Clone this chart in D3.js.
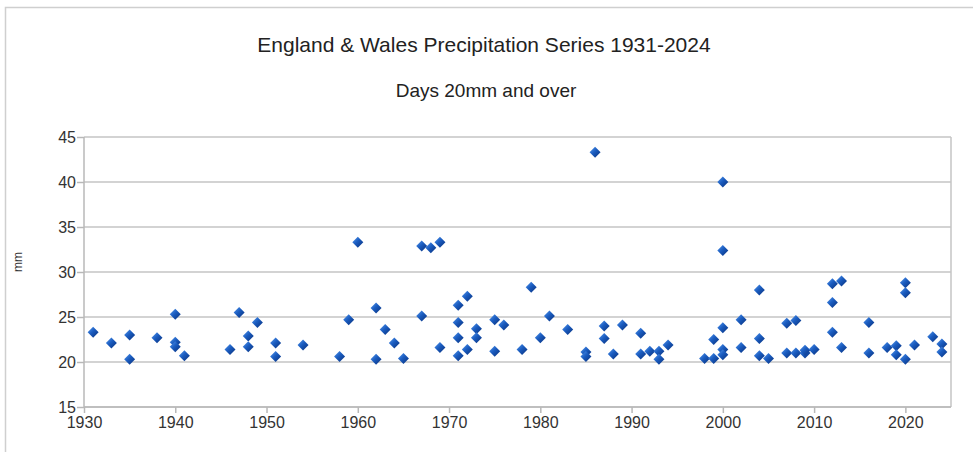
<!DOCTYPE html>
<html>
<head>
<meta charset="utf-8">
<script src="https://cdn.jsdelivr.net/npm/d3@7"></script>
<style>
  body { margin: 0; background: #fff; }
  text { font-family: 'Liberation Sans', Arial, sans-serif; }
</style>
</head>
<body>
<svg id="chart"></svg>
<script>
// days of 20mm and over, one entry per day (year, mm)
const years = [1931, 1933, 1935, 1935, 1938, 1940, 1940, 1940, 1941, 1946, 1947, 1948, 1948, 1949,
  1951, 1951, 1954, 1958, 1959, 1960, 1962, 1962, 1963, 1964, 1965, 1967, 1967, 1968, 1969, 1969,
  1971, 1971, 1971, 1971, 1972, 1972, 1973, 1973, 1975, 1975, 1976, 1978, 1979, 1980, 1981, 1983,
  1985, 1985, 1986, 1987, 1987, 1988, 1989, 1991, 1991, 1992, 1993, 1993, 1994, 1998, 1999, 1999,
  2000, 2000, 2000, 2000, 2000, 2002, 2002, 2004, 2004, 2004, 2005, 2007, 2007, 2008, 2008, 2009,
  2009, 2010, 2012, 2012, 2012, 2013, 2013, 2016, 2016, 2018, 2019, 2019, 2020, 2020, 2020, 2021,
  2023, 2024, 2024];
const mm = [23.3, 22.1, 23.0, 20.3, 22.7, 25.3, 22.2, 21.7, 20.7, 21.4, 25.5, 22.9, 21.7, 24.4,
  22.1, 20.6, 21.9, 20.6, 24.7, 33.3, 26.0, 20.3, 23.6, 22.1, 20.4, 32.9, 25.1, 32.7, 33.3, 21.6,
  26.3, 24.4, 22.7, 20.7, 27.3, 21.4, 23.7, 22.7, 24.7, 21.2, 24.1, 21.4, 28.3, 22.7, 25.1, 23.6,
  21.1, 20.6, 43.3, 24.0, 22.6, 20.9, 24.1, 23.2, 20.9, 21.2, 21.2, 20.3, 21.9, 20.4, 22.5, 20.4,
  40.0, 32.4, 23.8, 21.4, 20.8, 24.7, 21.6, 28.0, 22.6, 20.7, 20.4, 24.3, 21.0, 24.6, 21.0, 21.0,
  21.3, 21.4, 28.7, 26.6, 23.3, 29.0, 21.6, 24.4, 21.0, 21.6, 21.8, 20.8, 28.8, 27.7, 20.3, 21.9,
  22.8, 22.0, 21.1];
const xTicks = [1930, 1940, 1950, 1960, 1970, 1980, 1990, 2000, 2010, 2020];
const yTicks = [15, 20, 25, 30, 35, 40, 45];

const w = 973, h = 452;
const margin = {top: 137, right: 22, bottom: 45, left: 84};
const innerWidth = w - margin.left - margin.right;
const innerHeight = h - margin.top - margin.bottom;

const svg = d3.select('#chart')
    .attr('width', w)
    .attr('height', h);

// outer frame (only top and left edges visible in the crop)
svg.append('path')
    .attr('d', `M5.5,${h} V7.5 H${w}`)
    .attr('fill', 'none')
    .attr('stroke', '#cfcfcf')
    .attr('stroke-width', 1.5);

svg.append('text')
    .attr('x', 484)
    .attr('y', 52)
    .attr('text-anchor', 'middle')
    .attr('font-size', 21)
    .attr('fill', '#222')
    .text('England & Wales Precipitation Series 1931-2024');

svg.append('text')
    .attr('x', 486)
    .attr('y', 97)
    .attr('text-anchor', 'middle')
    .attr('font-size', 19)
    .attr('fill', '#222')
    .text('Days 20mm and over');

const defs = svg.append('defs');
const grad = defs.append('linearGradient')
    .attr('id', 'mark')
    .attr('x1', '0%').attr('y1', '0%')
    .attr('x2', '100%').attr('y2', '100%');
grad.append('stop').attr('offset', '0%').attr('stop-color', '#5a9cf0');
grad.append('stop').attr('offset', '45%').attr('stop-color', '#1a5cc0');
grad.append('stop').attr('offset', '100%').attr('stop-color', '#082e78');

const g = svg.append('g')
    .attr('transform', `translate(${margin.left}, ${margin.top})`);

const xScale = d3.scaleLinear()
    .domain([1930, 2025])
    .range([0, innerWidth]);
const yScale = d3.scaleLinear()
    .domain([15, 45])
    .range([innerHeight, 0]);

// gridlines
g.append('g').selectAll('line').data(yTicks)
    .enter().append('line')
        .attr('x1', 0)
        .attr('x2', innerWidth)
        .attr('y1', d => yScale(d))
        .attr('y2', d => yScale(d))
        .attr('stroke', '#c4c4c4')
        .attr('stroke-width', 1.5);

// right border
g.append('line')
    .attr('x1', innerWidth).attr('x2', innerWidth)
    .attr('y1', 0).attr('y2', innerHeight)
    .attr('stroke', '#c4c4c4')
    .attr('stroke-width', 1.5);

const yAxis = d3.axisLeft(yScale).tickValues(yTicks).tickSize(7).tickPadding(1);
const xAxis = d3.axisBottom(xScale).tickValues(xTicks).tickFormat(d3.format('d')).tickSize(6).tickPadding(4);

const yAxisG = g.append('g').call(yAxis);
const xAxisG = g.append('g').call(xAxis)
    .attr('transform', `translate(0,${innerHeight})`);

[yAxisG, xAxisG].forEach(a => {
    a.select('.domain').attr('stroke', '#b8b8b8').attr('stroke-width', 1.5);
    a.selectAll('.tick line').attr('stroke', '#b8b8b8').attr('stroke-width', 1.5);
    a.selectAll('.tick text')
        .attr('font-size', 16)
        .attr('fill', '#333')
        .attr('font-family', "'Liberation Sans', Arial, sans-serif");
});
xAxisG.select('.domain').attr('d', `M0,0H${innerWidth}`);
yAxisG.select('.domain').attr('d', `M0,${innerHeight}V0`);

svg.append('text')
    .attr('transform', `translate(22, ${margin.top + innerHeight / 2 - 10}) rotate(-90)`)
    .attr('text-anchor', 'middle')
    .attr('font-size', 12)
    .attr('fill', '#333')
    .text('mm');

// diamond markers
const data = years.map((y, i) => ({year: y, value: mm[i]}));
const s = 5.5;
g.selectAll('path.point').data(data)
    .enter().append('path')
        .attr('class', 'point')
        .attr('d', `M0,${-s}L${s},0L0,${s}L${-s},0Z`)
        .attr('transform', d => `translate(${xScale(d.year)},${yScale(d.value)})`)
        .attr('fill', 'url(#mark)');
</script>
</body>
</html>
